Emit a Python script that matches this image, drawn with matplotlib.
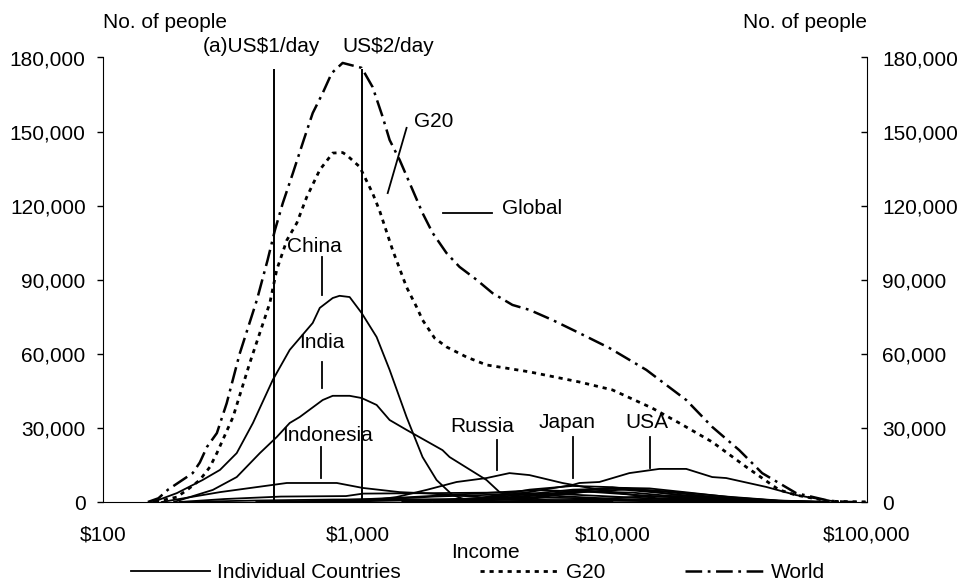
import matplotlib.pyplot as plt
from matplotlib.lines import Line2D
from matplotlib.ticker import FuncFormatter, NullLocator

plt.rcParams['font.family'] = ['Liberation Sans', 'DejaVu Sans']
plt.rcParams['lines.scale_dashes'] = False

# ---------------- data (income in US$, people) ----------------
world_inc = [150, 165, 180, 225, 240, 256, 280, 306, 344, 402, 443, 473, 508, 556, 614, 666, 729, 791,
             873, 1037, 1145, 1253, 1335, 1462, 1643, 1798, 1968, 2233, 2512, 2930, 3383, 4053, 4726,
             5821, 7424, 9724, 13594, 19508, 24677, 31500, 38744, 52675, 70960, 85000, 100000]
world_val = [0, 1500, 5000, 11700, 16000, 22300, 27900, 40000, 60000, 81800, 98000, 110000, 121000,
             133000, 146600, 157500, 165600, 173700, 177800, 175800, 168000, 156000, 146600, 138500,
             126400, 117000, 109000, 100800, 95200, 90000, 84600, 79800, 77800, 73700, 68400, 62400,
             53500, 41300, 30400, 21000, 11700, 3600, 500, 0, 0]

g20_inc = [160, 195, 214, 240, 263, 280, 324, 377, 452, 481, 527, 577, 631, 710, 798, 873, 905, 1019,
           1145, 1219, 1372, 1556, 1703, 1798, 2004, 2233, 2676, 3206, 4726, 7424, 10000, 14357,
           18308, 24677, 33545, 45167, 52675, 70960, 100000]
g20_val = [0, 2000, 4900, 8900, 14200, 19800, 34400, 56300, 80600, 94000, 106000, 113000, 123500,
           134500, 141300, 141500, 140500, 135700, 125000, 118000, 102000, 87000, 79000, 73700, 66400,
           62800, 58700, 55500, 52700, 48600, 45400, 38000, 32000, 24300, 14200, 4900, 2800, 300, 0]

china_inc = [157, 195, 246, 288, 335, 388, 464, 541, 666, 710, 798, 849, 930, 1037, 1187, 1335, 1556,
             1798, 2041, 2358, 2676, 3200]
china_val = [0, 3600, 8900, 13000, 19800, 32000, 49400, 61600, 72500, 78600, 82600, 83500, 83000,
             76500, 66800, 53500, 34400, 18200, 8900, 2800, 800, 0]

india_inc = [190, 270, 335, 413, 481, 541, 592, 729, 798, 930, 1037, 1187, 1335, 1556, 2154, 2296,
             3206, 3606, 4053, 5510, 9000]
india_val = [0, 4900, 10100, 19800, 26300, 32000, 34400, 41300, 43000, 43000, 42100, 39300, 33200,
             29200, 21000, 18200, 8900, 4000, 2500, 800, 0]

indonesia_inc = [170, 288, 527, 828, 1046, 1462, 1864, 3010, 5510, 10000]
indonesia_val = [0, 4000, 7700, 7700, 5700, 4000, 3500, 2000, 500, 0]

russia_inc = [1000, 1420, 1864, 2445, 3206, 3945, 4726, 6368, 10000, 15000, 30000]
russia_val = [0, 2000, 4900, 8100, 9700, 11700, 10900, 7700, 4000, 1500, 0]

japan_inc = [2500, 3383, 4726, 6967, 10000, 13594, 21352, 33545, 50000]
japan_val = [0, 2500, 5000, 6500, 6000, 4500, 2000, 400, 0]

usa_inc = [1500, 3000, 4700, 6967, 7424, 8892, 11659, 15290, 19508, 24677, 27990, 40200, 52675, 64900,
           77000]
usa_val = [0, 1500, 4000, 6900, 7700, 8100, 11700, 13400, 13400, 10100, 9700, 6100, 2800, 1200, 0]

germany_inc = [2000, 4000, 7000, 10000, 14000, 20000, 30000, 45000, 70000]
germany_val = [0, 1500, 4500, 5800, 5500, 3800, 1800, 500, 0]

uk_inc = [2500, 5000, 8000, 12000, 18000, 28000, 45000, 70000]
uk_val = [0, 1800, 4200, 5200, 4000, 2200, 600, 0]

france_inc = [2500, 5000, 8000, 11000, 16000, 25000, 40000, 65000]
france_val = [0, 2000, 4800, 5600, 4200, 2000, 500, 0]

italy_inc = [2000, 4000, 7000, 10000, 15000, 25000, 40000, 60000]
italy_val = [0, 2500, 5000, 5400, 3800, 1500, 300, 0]

brazil_inc = [200, 300, 500, 900, 1050, 2000, 3500, 6000, 10000, 18000, 35000, 60000]
brazil_val = [0, 1200, 2200, 2400, 3400, 3600, 3800, 3300, 2200, 900, 200, 0]

mexico_inc = [400, 800, 1500, 3000, 5000, 8000, 14000, 25000, 50000]
mexico_val = [0, 600, 1800, 3500, 4800, 4200, 2500, 800, 0]

korea_inc = [1500, 3000, 5000, 8000, 12000, 18000, 30000, 50000]
korea_val = [0, 1000, 2800, 4200, 3800, 2200, 600, 0]

turkey_inc = [600, 1200, 2000, 3500, 5000, 8000, 14000, 30000]
turkey_val = [0, 1000, 2200, 3000, 2900, 1800, 600, 0]

canada_inc = [4000, 8000, 13000, 20000, 30000, 45000, 70000]
canada_val = [0, 1000, 2200, 2500, 1600, 500, 0]

argentina_inc = [700, 1500, 3000, 5000, 8000, 15000, 30000]
argentina_val = [0, 600, 1500, 1800, 1500, 600, 0]

safrica_inc = [200, 400, 800, 1500, 3000, 6000, 12000, 30000]
safrica_val = [0, 600, 1000, 1100, 1000, 700, 400, 0]

australia_inc = [5000, 10000, 16000, 25000, 40000, 60000]
australia_val = [0, 700, 1500, 1400, 500, 0]

saudi_inc = [2000, 5000, 10000, 20000, 40000]
saudi_val = [0, 500, 900, 600, 0]

poverty_lines = [468, 1036]     # US$1/day, US$2/day
poverty_top = 175500
y_ticks = [0, 30000, 60000, 90000, 120000, 150000, 180000]
x_ticks = [100, 1000, 10000, 100000]
x_labels = ['$100', '$1,000', '$10,000', '$100,000']

countries = [(china_inc, china_val), (india_inc, india_val), (indonesia_inc, indonesia_val),
             (russia_inc, russia_val), (japan_inc, japan_val), (usa_inc, usa_val),
             (germany_inc, germany_val), (uk_inc, uk_val), (france_inc, france_val),
             (italy_inc, italy_val), (brazil_inc, brazil_val), (mexico_inc, mexico_val),
             (korea_inc, korea_val), (turkey_inc, turkey_val), (canada_inc, canada_val),
             (argentina_inc, argentina_val), (safrica_inc, safrica_val),
             (australia_inc, australia_val), (saudi_inc, saudi_val)]

# ---------------- styles ----------------
FS = 15
country_style = dict(color='black', lw=1.3, linestyle='-')
g20_style = dict(color='black', lw=2.0, linestyle=(0, (3, 3.5)))
world_style = dict(color='black', lw=1.8, linestyle=(0, (12, 4, 2, 4)))

fig = plt.figure(figsize=(9.63, 5.83), dpi=100)
ax = fig.add_axes([103/963, 1 - 502/583, (867 - 103)/963, (502 - 57.5)/583])

for inc, val in countries:
    ax.plot(inc, val, **country_style)
ax.plot(g20_inc, g20_val, **g20_style)
ax.plot(world_inc, world_val, **world_style)

# poverty lines
ax.vlines(poverty_lines, 0, poverty_top, color='black', lw=1.4)

ax.set_xscale('log')
ax.set_xlim(100, 100000)
ax.set_ylim(0, 180000)
ax.set_xticks(x_ticks)
ax.set_xticklabels(x_labels)
ax.xaxis.set_minor_locator(NullLocator())
ax.tick_params(axis='x', length=0, pad=17, labelsize=FS)
ax.set_yticks(y_ticks)
fmt = FuncFormatter(lambda v, p: f'{int(v):,}')
ax.yaxis.set_major_formatter(fmt)
ax.tick_params(axis='y', direction='out', length=4.5, width=1, pad=8, labelsize=FS)
ax.spines['top'].set_visible(False)
ax.spines['right'].set_visible(False)

ax2 = ax.twinx()
ax2.set_ylim(0, 180000)
ax2.set_yticks(y_ticks)
ax2.yaxis.set_major_formatter(fmt)
ax2.tick_params(axis='y', direction='in', length=4.5, width=1, pad=11, labelsize=FS)
for s in ['top', 'left', 'bottom']:
    ax2.spines[s].set_visible(False)

# labels with pointer lines
ax.text(420, 184300, '(a)US$1/day', ha='center', va='center', fontsize=FS)
ax.text(1323, 184300, 'US$2/day', ha='center', va='center', fontsize=FS)
ax.text(1986, 153900, 'G20', ha='center', va='center', fontsize=FS)
ax.plot([1556, 1312], [151500, 125100], color='black', lw=1.3)
ax.text(3673, 119000, 'Global', ha='left', va='center', fontsize=FS)
ax.plot([2154, 3381], [117000, 117000], color='black', lw=1.3)
ax.text(678, 103300, 'China', ha='center', va='center', fontsize=FS)
ax.plot([722, 722], [99200, 83800], color='black', lw=1.3)
ax.text(722, 64400, 'India', ha='center', va='center', fontsize=FS)
ax.plot([722, 722], [56700, 46200], color='black', lw=1.3)
ax.text(762, 27100, 'Indonesia', ha='center', va='center', fontsize=FS)
ax.plot([716, 716], [22300, 9700], color='black', lw=1.3)
ax.text(3090, 30400, 'Russia', ha='center', va='center', fontsize=FS)
ax.plot([3539, 3539], [25100, 13000], color='black', lw=1.3)
ax.text(6670, 32000, 'Japan', ha='center', va='center', fontsize=FS)
ax.plot([7030, 7030], [26300, 9700], color='black', lw=1.3)
ax.text(13700, 32000, 'USA', ha='center', va='center', fontsize=FS)
ax.plot([14090, 14090], [26300, 13800], color='black', lw=1.3)

fig.text(103/963, 1 - 22/583, 'No. of people', ha='left', va='center', fontsize=FS)
fig.text(867/963, 1 - 22/583, 'No. of people', ha='right', va='center', fontsize=FS)
fig.text(485/963, 1 - 553/583, 'Income', ha='center', va='center', fontsize=FS)

handles = [Line2D([], [], **country_style), Line2D([], [], **g20_style),
           Line2D([], [], **world_style)]
fig.legend(handles, ['Individual Countries', 'G20', 'World'], loc='center',
           bbox_to_anchor=(478/963, 1 - 573/583), ncol=3, frameon=False, fontsize=FS,
           handlelength=3.8, columnspacing=3.8, handletextpad=0.35, borderpad=0,
           borderaxespad=0)

fig.savefig('out.png', dpi=100)
